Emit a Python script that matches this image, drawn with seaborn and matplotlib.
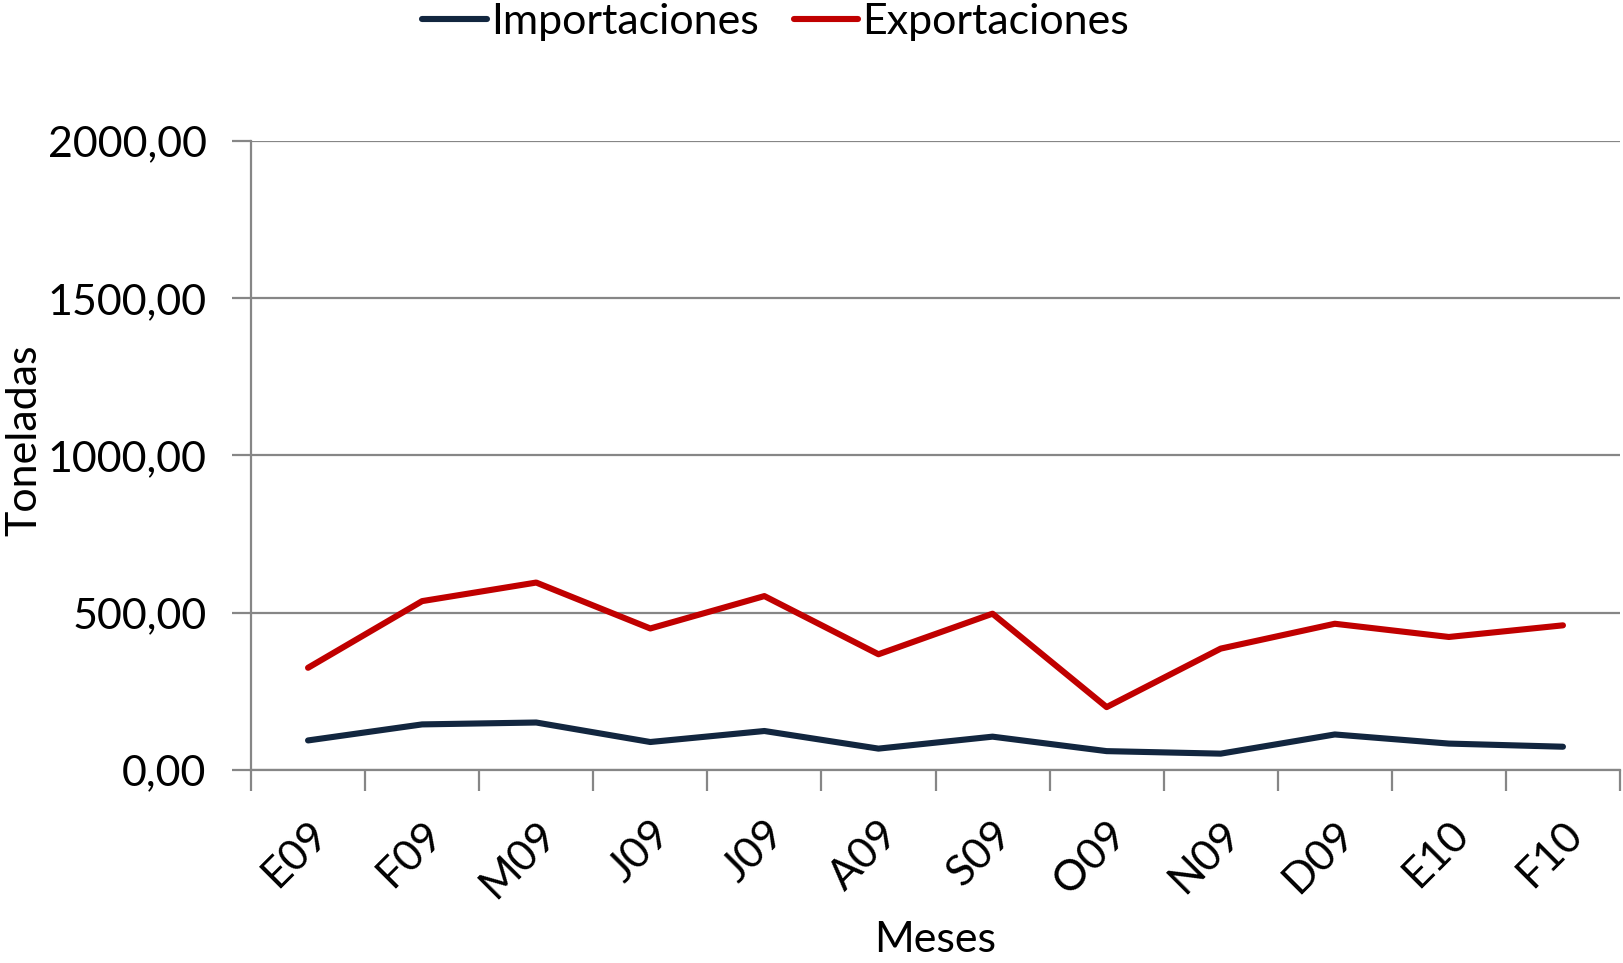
import pandas as pd
import numpy as np
import matplotlib
matplotlib.use("Agg")
import matplotlib.pyplot as plt
import seaborn as sns
from matplotlib.ticker import FuncFormatter, FixedLocator

# data
meses = ["E09", "F09", "M09", "J09", "J09", "A09", "S09", "O09", "N09", "D09", "E10", "F10"]
importaciones = [94, 145, 151, 89, 124, 68, 106, 60, 52, 113, 84, 74]
exportaciones = [325, 537, 596, 450, 553, 368, 497, 200, 386, 465, 423, 460]
y_ticks = [0, 500, 1000, 1500, 2000]

rows = []
for i, m in enumerate(meses):
    rows.append({"pos": i, "mes": m, "serie": "Importaciones", "valor": importaciones[i]})
    rows.append({"pos": i, "mes": m, "serie": "Exportaciones", "valor": exportaciones[i]})
df = pd.DataFrame(rows)

sns.set_style("white")
plt.rcParams['font.family'] = ['Lato', 'DejaVu Sans']
plt.rcParams['text.color'] = 'black'
plt.rcParams['xtick.color'] = 'black'
plt.rcParams['ytick.color'] = 'black'
plt.rcParams['axes.labelcolor'] = 'black'

fig = plt.figure(figsize=(16.23, 9.63), dpi=100)
ax = fig.add_axes([251 / 1623, 1 - 770 / 963, (1620 - 251) / 1623, (770 - 141) / 963])

sns.lineplot(data=df, x="pos", y="valor", hue="serie",
             palette={"Importaciones": "#12263f", "Exportaciones": "#c00000"},
             linewidth=4.4, ax=ax, legend=True)

ax.set_xlim(-0.5, len(meses) - 0.5)
ax.set_ylim(0, 2000)
ax.set_yticks(y_ticks)
ax.yaxis.set_major_formatter(FuncFormatter(lambda v, p: f"{v:.2f}".replace(".", ",")))
ax.grid(axis="y", color="#868686", linewidth=1.6)
ax.set_axisbelow(True)

ax.set_xticks(range(len(meses)))
ax.set_xticklabels(meses, rotation=45, ha="right", rotation_mode="anchor")
ax.xaxis.set_minor_locator(FixedLocator(np.arange(-0.5, len(meses), 1.0)))
ax.tick_params(axis="x", which="major", length=0, pad=32, labelsize=31)
ax.tick_params(axis="x", which="minor", length=15, width=1.6, color="#868686", direction="out", bottom=True)
ax.tick_params(axis="y", length=14, width=1.6, color="#868686", direction="out", left=True, labelsize=31, pad=18)

for s in ["top", "right"]:
    ax.spines[s].set_visible(False)
for s in ["left", "bottom"]:
    ax.spines[s].set_color("#868686")
    ax.spines[s].set_linewidth(1.6)

ax.set_xlabel("Meses", fontsize=31, labelpad=12)
ax.set_ylabel("Toneladas", fontsize=31)
ax.yaxis.set_label_coords(-0.152, 0.525)

handles, labels = ax.get_legend_handles_labels()
ax.legend_.remove()
fig.legend(handles, labels, loc="center", bbox_to_anchor=(0.478, 0.977), ncol=2,
           frameon=False, fontsize=31, handlelength=1.5, handletextpad=0.1,
           columnspacing=0.8)

fig.savefig("out.png", dpi=100)
